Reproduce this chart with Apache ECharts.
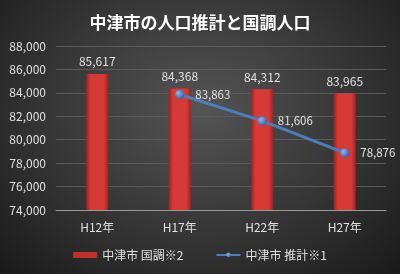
<!DOCTYPE html>
<html>
<head>
<meta charset="utf-8">
<script src="https://cdn.jsdelivr.net/npm/echarts@6/dist/echarts.min.js"></script>
<style>
  html, body { margin: 0; padding: 0; }
  #chart {
    width: 400px; height: 274px;
    background: radial-gradient(ellipse at 50% 40%, #545454 0%, #383838 50%, #1a1a1a 100%);
  }
</style>
</head>
<body>
<div id="chart"></div>
<script>
const categories = ['H12年', 'H17年', 'H22年', 'H27年'];
const censusValues = [85617, 84368, 84312, 83965];
const estimateValues = [null, 83863, 81606, 78876];
const yTicks = { min: 74000, max: 88000, interval: 2000 };

const chart = echarts.init(document.getElementById('chart'));
const fontFamily = '"Noto Sans CJK JP", "Noto Sans", sans-serif';
const fmt = v => Number(v).toLocaleString('en-US');

chart.setOption({
    animation: false,
    textStyle: { fontFamily: fontFamily },
    title: {
        text: '中津市の人口推計と国調人口',
        left: 'center',
        top: 9,
        textStyle: { color: '#ffffff', fontSize: 17, fontWeight: 'bold', fontFamily: fontFamily }
    },
    grid: { left: 56, right: 14, top: 46, bottom: 64 },
    legend: {
        bottom: 8,
        itemGap: 32,
        textStyle: { color: '#e0e0e0', fontSize: 12 },
        data: [
            { name: '中津市 国調※2', icon: 'rect', itemStyle: { color: '#c0302e' } },
            { name: '中津市 推計※1' }
        ],
        itemWidth: 24,
        itemHeight: 6
    },
    xAxis: {
        type: 'category',
        data: categories,
        axisLine: { lineStyle: { color: '#9a9a9a', width: 1 } },
        axisTick: { show: false },
        axisLabel: { color: '#e0e0e0', fontSize: 12, margin: 11 }
    },
    yAxis: {
        type: 'value',
        min: yTicks.min,
        max: yTicks.max,
        interval: yTicks.interval,
        axisLine: { show: false },
        axisTick: { show: false },
        axisLabel: { color: '#e0e0e0', fontSize: 12, formatter: fmt, margin: 10 },
        splitLine: { lineStyle: { color: '#5a5a5a', width: 1 } }
    },
    series: [
        {
            name: '中津市 国調※2',
            type: 'bar',
            data: censusValues,
            barWidth: 22,
            itemStyle: {
                color: new echarts.graphic.LinearGradient(0, 0, 1, 0, [
                    { offset: 0, color: '#9e2321' },
                    { offset: 0.2, color: '#d63a37' },
                    { offset: 0.8, color: '#d63a37' },
                    { offset: 1, color: '#9e2321' }
                ])
            },
            label: {
                show: true,
                position: 'top',
                distance: 6,
                color: '#e0e0e0',
                fontSize: 12,
                formatter: p => fmt(p.value)
            }
        },
        {
            name: '中津市 推計※1',
            type: 'line',
            data: estimateValues,
            symbol: 'circle',
            symbolSize: 9,
            lineStyle: { color: '#4a7ebb', width: 3 },
            itemStyle: {
                color: new echarts.graphic.RadialGradient(0.35, 0.35, 0.7, [
                    { offset: 0, color: '#8fb8ea' },
                    { offset: 1, color: '#2f62a8' }
                ])
            },
            label: {
                show: true,
                position: 'right',
                distance: 11,
                color: '#e0e0e0',
                fontSize: 11.5,
                formatter: p => fmt(p.value)
            }
        }
    ]
});
</script>
</body>
</html>
